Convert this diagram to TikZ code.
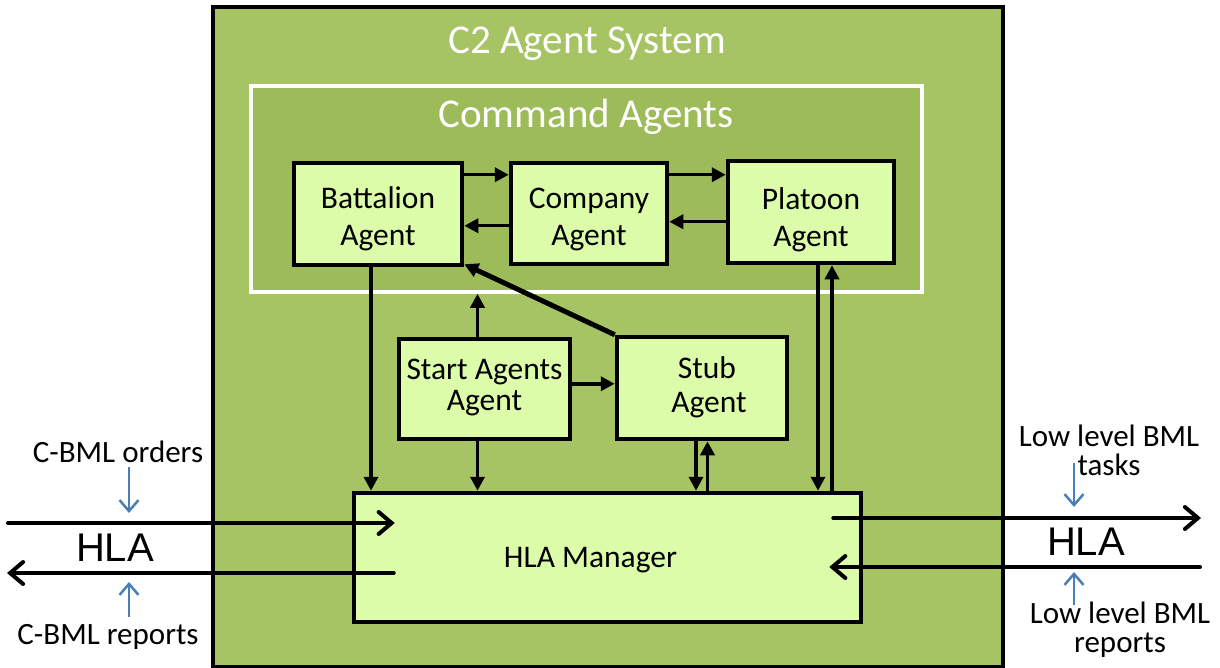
\documentclass[tikz,border=0pt]{standalone}
\usepackage{fontspec}
\setmainfont{Carlito}
\newfontfamily\arialfont{Liberation Sans}
\usetikzlibrary{arrows.meta,calc}

\definecolor{sysgreen}{RGB}{166,196,100}
\definecolor{cmdgreen}{RGB}{157,187,89}
\definecolor{agentfill}{RGB}{221,252,170}
\definecolor{noteblue}{RGB}{74,126,187}

% two-line agent name: lines, downward shift, line distance
\newcommand{\agentname}[4]{\raisebox{-#3}[\height][\depth]{%
  \fontsize{31.5}{#4}\selectfont\begin{tabular}{@{}c@{}}#1\\#2\end{tabular}}}

\tikzset{
  agent/.style={draw=black, line width=4.5pt, fill=agentfill, inner sep=0pt,
    align=center, font=\fontsize{31.5}{38}\selectfont},
  link/.style={line width=3.5pt, -{Triangle[length=14pt,width=14pt]}},
  hlaflow/.style={line width=4pt, line cap=round,
    -{Straight Barb[length=13pt,width=22pt,line cap=round]}},
  note/.style={draw=noteblue, line width=2.5pt,
    -{Straight Barb[length=11pt,width=19pt]}},
  caption/.style={font=\fontsize{31}{29}\selectfont, align=center, inner sep=0pt},
  bigtitle/.style={font=\fontsize{41}{42}\selectfont, text=white, inner sep=0pt},
  hlatext/.style={font=\arialfont\fontsize{40}{40}\selectfont, inner sep=0pt}
}

\begin{document}
\begin{tikzpicture}[x=1pt,y=-1pt]
\useasboundingbox (0,0) rectangle (1220,668);
\fill[white] (0,0) rectangle (1220,668);

% system frame and command group
\node[draw=black, line width=4pt, fill=sysgreen, minimum width=790pt,
      minimum height=660pt, inner sep=0pt] (sys) at (608,337) {};
\node[bigtitle] (systitle) at (587,44) {C2 Agent System};
\node[draw=white, line width=3.5pt, fill=cmdgreen, minimum width=671pt,
      minimum height=206pt, inner sep=0pt] (cmd) at (586.5,189) {};
\node[bigtitle] (cmdtitle) at (586,117) {Command Agents};

% agents
\node[agent, minimum width=168pt, minimum height=102pt] (bat) at (378,214) {\agentname{Battalion}{Agent}{6pt}{37pt}};
\node[agent, minimum width=156pt, minimum height=101pt] (com) at (589,213.5) {\agentname{Company}{Agent}{6pt}{37pt}};
\node[agent, minimum width=166pt, minimum height=102pt] (pla) at (811,212) {\agentname{Platoon}{Agent}{9pt}{37pt}};
\node[agent, minimum width=171pt, minimum height=100pt] (start) at (484.5,389) {\agentname{Start Agents}{Agent}{0pt}{31pt}};
\node[agent, minimum width=170pt, minimum height=102pt] (stub) at (702,388) {\agentname{\hspace*{10pt}Stub}{\hspace*{14pt}Agent}{1pt}{34pt}};
\node[agent, minimum width=507pt, minimum height=129pt] (hla) at (607.5,557.5) {\raisebox{-3pt}[\height][\depth]{\hspace*{-34pt}HLA Manager}};

% command chain
\draw[link] ([yshift=-14pt]bat.north east) -- ([yshift=-14pt]com.north west);
\draw[link] ([yshift=-65pt]com.north west) -- ([yshift=-65pt]com.north west -| bat.east);
\draw[link] ([yshift=-14pt]com.north east) -- ([yshift=-14pt]com.north east -| pla.west);
\draw[link] ([yshift=-61pt]com.north east -| pla.west) -- ([yshift=-61pt]com.north east);

% links to the HLA manager
\draw[link] ([xshift=-7pt]bat.south) -- ([xshift=-7pt]bat.south |- hla.north);
\draw[link, line width=5pt] (stub.north west) -- ([yshift=3pt]bat.south east);
\draw[link] ([xshift=-7pt]start.north) -- ([xshift=-7pt]start.north |- cmd.south);
\draw[link] ([yshift=-47pt]start.north east) -- ([yshift=-47pt]start.north east -| stub.west);
\draw[link] ([xshift=-7pt]start.south) -- ([xshift=-7pt]start.south |- hla.north);
\draw[link] ([xshift=-6pt]stub.south) -- ([xshift=-6pt]stub.south |- hla.north);
\draw[link] ([xshift=5.5pt]stub.south |- hla.north) -- ([xshift=5.5pt]stub.south);
\draw[link] ([xshift=7pt]pla.south) -- ([xshift=7pt]pla.south |- hla.north);
\draw[link] ([xshift=21pt]pla.south |- hla.north) -- ([xshift=21pt]pla.south);

% HLA traffic
\coordinate (lin) at (8,523);
\coordinate (lout) at (7,573);
\coordinate (rout) at (1201,518);
\coordinate (rin) at (1200,567);
\draw[hlaflow] (lin) -- ([xshift=43pt]lin -| hla.west);
\draw[hlaflow] ([xshift=42pt]lout -| hla.west) -- (lout);
\draw[hlaflow] ([xshift=-30pt]rout -| hla.east) -- (rout);
\draw[hlaflow] (rin) -- ([xshift=-34pt]rin -| hla.east);

% labels
\node[hlatext] (hlal) at (115,548) {HLA};
\node[hlatext] (hlar) at (1086,542) {HLA};
\node[caption] (orders) at (118,452) {C-BML orders};
\node[caption] (reports) at (108,637) {C-BML reports};
\node[caption] (tasks) at (1109,450) {Low level BML\\tasks};
\node[caption] (lowrep) at (1120,630) {Low level BML\\reports};

\coordinate (ordtip) at (129,513);
\coordinate (reptip) at (129,582);
\coordinate (tasktip) at (1074,507);
\coordinate (lowtip) at (1074,572);
\draw[note] (ordtip |- 0,467) -- (ordtip);
\draw[note] (reptip |- 0,617) -- (reptip);
\draw[note] (tasktip |- 0,463) -- (tasktip);
\draw[note] (lowtip |- 0,605) -- (lowtip);
\end{tikzpicture}
\end{document}
